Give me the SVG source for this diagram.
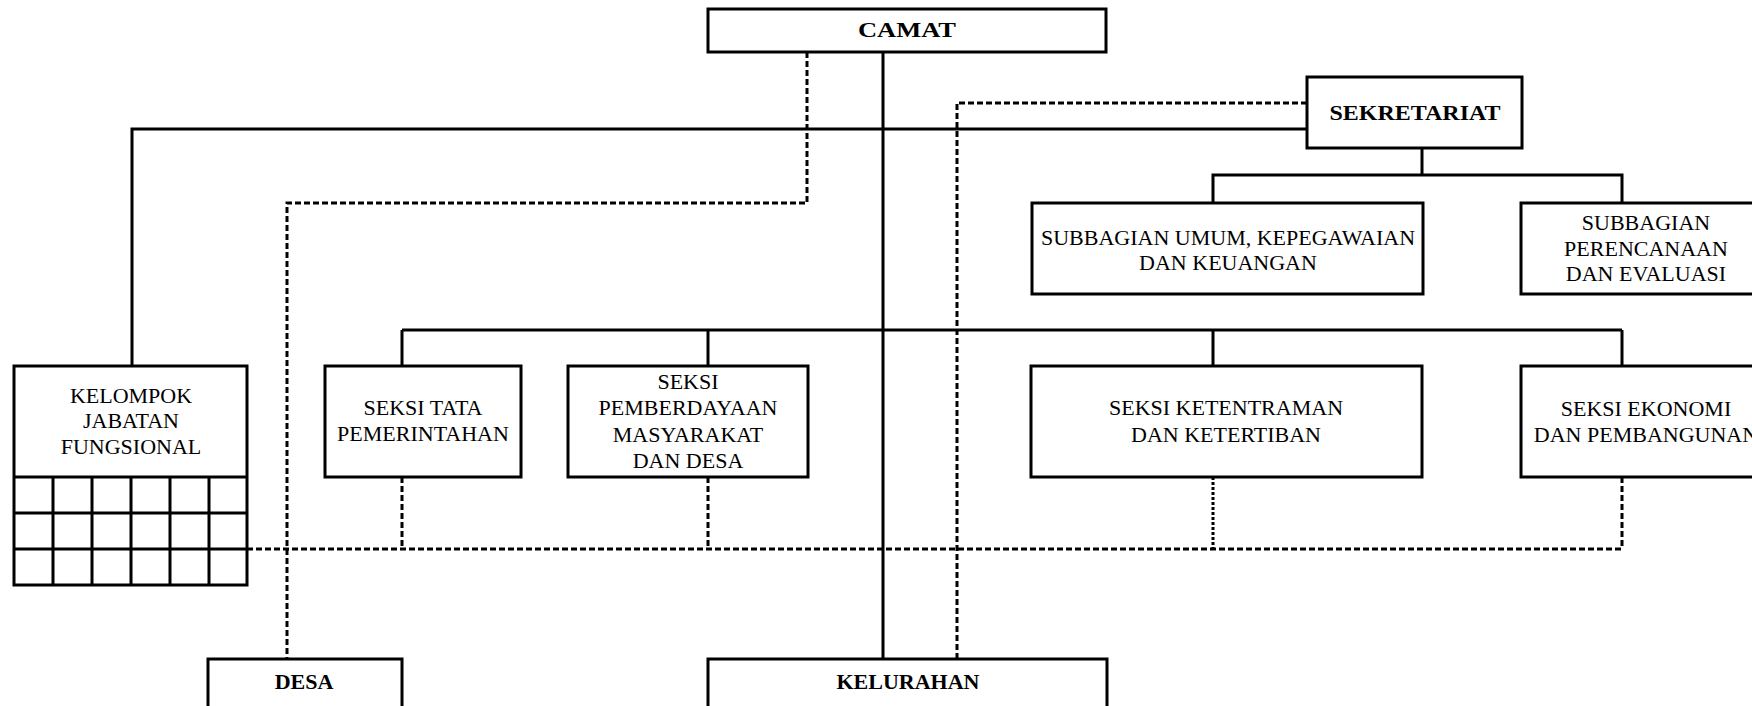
<svg xmlns="http://www.w3.org/2000/svg" width="1752" height="706" viewBox="0 0 1752 706">
<style>
.box{fill:#fff;stroke:#000;stroke-width:3}
.ln{fill:none;stroke:#000;stroke-width:3}
.dash{fill:none;stroke:#000;stroke-width:3;stroke-dasharray:6 3}
.dot{fill:none;stroke:#000;stroke-width:3;stroke-dasharray:3 2}
text{font-family:"Liberation Serif","Times New Roman",serif;font-size:22px;fill:#000;text-anchor:middle}
.b{font-weight:bold}
</style>
<rect width="1752" height="706" fill="#fff"/>
<g id="connectors">
<line class="ln" x1="883" y1="52" x2="883" y2="659"/>
<polyline class="ln" points="132,366 132,129 1307,129"/>
<line class="ln" x1="1422" y1="148" x2="1422" y2="175"/>
<polyline class="ln" points="1213,203 1213,175 1622,175 1622,203"/>
<line class="ln" x1="402" y1="330" x2="1622" y2="330"/>
<line class="ln" x1="402" y1="330" x2="402" y2="366"/>
<line class="ln" x1="708" y1="330" x2="708" y2="366"/>
<line class="ln" x1="1213" y1="330" x2="1213" y2="366"/>
<line class="ln" x1="1622" y1="330" x2="1622" y2="366"/>
<polyline class="dash" points="807,52 807,203 287,203 287,659"/>
<polyline class="dash" points="1307,103 957,103 957,659"/>
<line class="dash" x1="247" y1="549" x2="1622" y2="549"/>
<line class="dash" x1="402" y1="477" x2="402" y2="549"/>
<line class="dash" x1="708" y1="477" x2="708" y2="549"/>
<line class="dot" x1="1213" y1="477" x2="1213" y2="549"/>
<line class="dash" x1="1622" y1="477" x2="1622" y2="549"/>
</g>
<g id="camat">
<rect class="box" x="708" y="9" width="398" height="43"/>
<text class="b" x="907" y="37" textLength="98" lengthAdjust="spacingAndGlyphs">CAMAT</text>
</g>
<g id="sekretariat">
<rect class="box" x="1307" y="77" width="215" height="71"/>
<text class="b" x="1415" y="120" textLength="171" lengthAdjust="spacingAndGlyphs">SEKRETARIAT</text>
</g>
<g id="subbagian-umum">
<rect class="box" x="1032" y="203" width="391" height="91"/>
<text x="1228" y="245">SUBBAGIAN UMUM, KEPEGAWAIAN</text>
<text x="1228" y="270">DAN KEUANGAN</text>
</g>
<g id="subbagian-perencanaan">
<rect class="box" x="1521" y="203" width="260" height="91"/>
<text x="1646" y="230">SUBBAGIAN</text>
<text x="1646" y="256">PERENCANAAN</text>
<text x="1646" y="281">DAN EVALUASI</text>
</g>
<g id="kelompok-jabatan-fungsional">
<rect class="box" x="14" y="366" width="233" height="219"/>
<path class="ln" d="M14 477H247M14 513H247M14 549H247M53 477V585M92 477V585M131 477V585M170 477V585M209 477V585"/>
<text x="131" y="403">KELOMPOK</text>
<text x="131" y="428">JABATAN</text>
<text x="131" y="454">FUNGSIONAL</text>
</g>
<g id="seksi-tata-pemerintahan">
<rect class="box" x="325" y="366" width="196" height="111"/>
<text x="423" y="415">SEKSI TATA</text>
<text x="423" y="441">PEMERINTAHAN</text>
</g>
<g id="seksi-pemberdayaan">
<rect class="box" x="568" y="366" width="240" height="111"/>
<text x="688" y="389">SEKSI</text>
<text x="688" y="415">PEMBERDAYAAN</text>
<text x="688" y="442">MASYARAKAT</text>
<text x="688" y="468">DAN DESA</text>
</g>
<g id="seksi-ketentraman">
<rect class="box" x="1031" y="366" width="391" height="111"/>
<text x="1226" y="415">SEKSI KETENTRAMAN</text>
<text x="1226" y="442">DAN KETERTIBAN</text>
</g>
<g id="seksi-ekonomi">
<rect class="box" x="1521" y="366" width="260" height="111"/>
<text x="1646" y="416">SEKSI EKONOMI</text>
<text x="1646" y="442">DAN PEMBANGUNAN</text>
</g>
<g id="desa">
<rect class="box" x="208" y="659" width="194" height="60"/>
<text class="b" x="304" y="689">DESA</text>
</g>
<g id="kelurahan">
<rect class="box" x="708" y="659" width="399" height="60"/>
<text class="b" x="908" y="689">KELURAHAN</text>
</g>
</svg>
